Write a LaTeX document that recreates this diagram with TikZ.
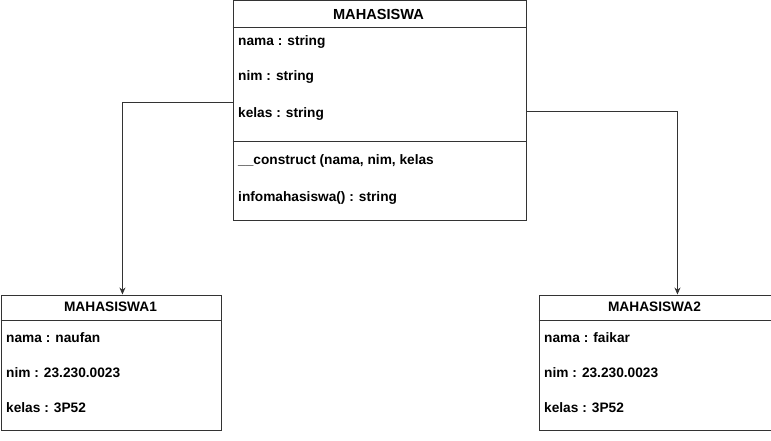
\documentclass[tikz,border=0pt]{standalone}
\usepackage{fontspec}
\setmainfont{Liberation Sans}
\usetikzlibrary{positioning,arrows.meta}
\begin{document}
\begin{tikzpicture}[x=1pt,y=-1pt,
        caja/.style={draw=black!80,line width=0.9pt,inner sep=0pt,anchor=north west},
        titulo/.style={inner sep=0pt,font=\bfseries\fontsize{13.7}{16}\selectfont},
        attr/.style={anchor=west,inner sep=0pt,font=\bfseries\fontsize{13.7}{16}\selectfont},
        flecha/.style={-{Stealth[length=7pt,width=6pt]},black!80,line width=0.8pt}]
        \useasboundingbox (0,0) rectangle (771,441);

        %clase
        \node[caja,minimum width=293pt,minimum height=219pt] (clase) at (232.5,0.5) {};
        \draw[black!80,line width=0.9pt] ([yshift=-27pt]clase.north west) -- ([yshift=-27pt]clase.north east);
        \draw[black!80,line width=0.9pt] ([yshift=-141pt]clase.north west) -- ([yshift=-141pt]clase.north east);
        \node[titulo,font=\bfseries\fontsize{14.6}{16}\selectfont] (clase titulo) at (378.5,14) {MAHASISWA};
        \node[attr] (clase nama) at (238,42) {nama : string};
        \node[attr] (clase nim) at (238,77) {nim : string};
        \node[attr] (clase kelas) at (238,114) {kelas : string};
        \node[attr] (clase construct) at (238,161) {\_\_construct (nama, nim, kelas};
        \node[attr] (clase info) at (238,198) {infomahasiswa() : string};

        %objetos
        \node[caja,minimum width=220pt,minimum height=135pt] (obj1) at (0.5,294.5) {};
        \draw[black!80,line width=0.9pt] ([yshift=-26pt]obj1.north west) -- ([yshift=-26pt]obj1.north east);
        \node[titulo] (obj1 titulo) at (110.5,307) {MAHASISWA1};
        \node[attr] (obj1 nama) at (6,338) {nama : naufan};
        \node[attr] (obj1 nim) at (6,373) {nim : 23.230.0023};
        \node[attr] (obj1 kelas) at (6,408) {kelas : 3P52};

        \node[caja,minimum width=232pt,minimum height=135pt] (obj2) at (538.5,294.5) {};
        \draw[black!80,line width=0.9pt] ([yshift=-26pt]obj2.north west) -- ([yshift=-26pt]obj2.north east);
        \node[titulo] (obj2 titulo) at (654.5,307) {MAHASISWA2};
        \node[attr] (obj2 nama) at (544,338) {nama : faikar};
        \node[attr] (obj2 nim) at (544,373) {nim : 23.230.0023};
        \node[attr] (obj2 kelas) at (544,408) {kelas : 3P52};

        %flechas
        \draw[flecha] ([yshift=8.5pt]clase.west) -| ([xshift=11.5pt]obj1.north);
        \draw[flecha] ([yshift=-0.5pt]clase.east) -| ([xshift=22.5pt]obj2.north);
    \end{tikzpicture}
\end{document}
